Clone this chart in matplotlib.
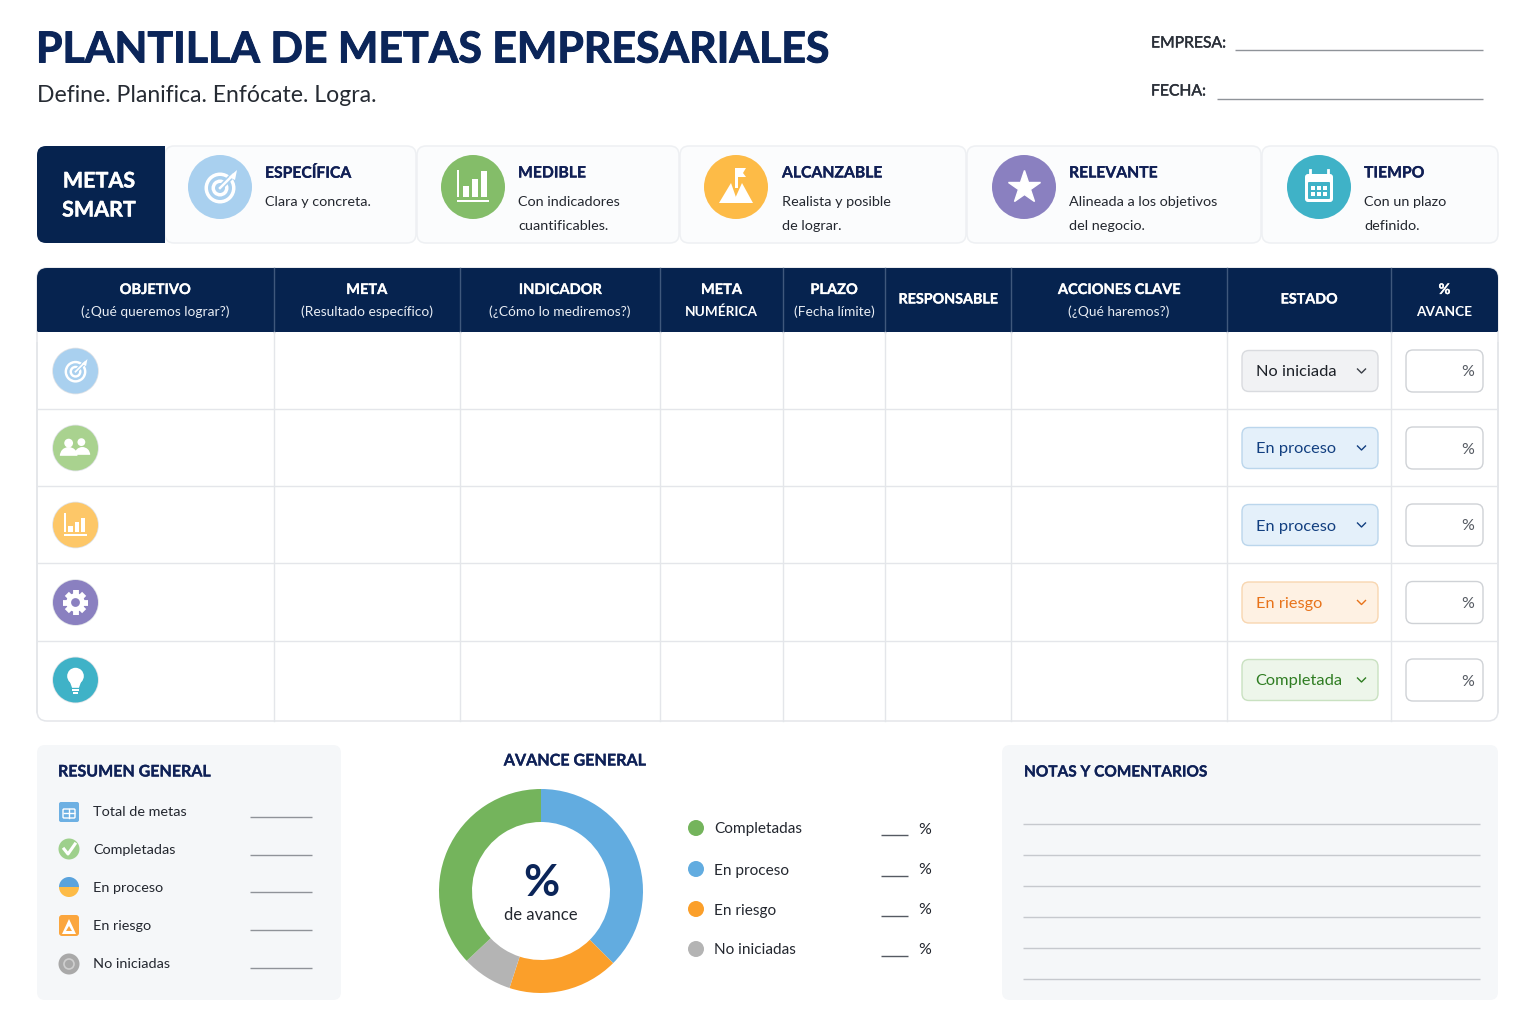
import numpy as np
from matplotlib import pyplot as plt
from matplotlib import patheffects
from matplotlib.patches import Circle, FancyBboxPatch, Polygon, Rectangle, Wedge

plt.rcParams['font.family'] = ['Lato', 'DejaVu Sans']

# --- contenido ---
TITLE = "PLANTILLA DE METAS EMPRESARIALES"
SUBTITLE = "Define. Planifica. Enfócate. Logra."

smart_titles = ["ESPECÍFICA", "MEDIBLE", "ALCANZABLE", "RELEVANTE", "TIEMPO"]
smart_texts = [["Clara y concreta."],
               ["Con indicadores", "cuantificables."],
               ["Realista y posible", "de lograr."],
               ["Alineada a los objetivos", "del negocio."],
               ["Con un plazo", "definido."]]

col_titles = ["OBJETIVO", "META", "INDICADOR", "META", "PLAZO", "RESPONSABLE",
              "ACCIONES CLAVE", "ESTADO", "%"]
col_subs = ["(¿Qué queremos lograr?)", "(Resultado específico)", "(¿Cómo lo mediremos?)",
            "NUMÉRICA", "(Fecha límite)", "", "(¿Qué haremos?)", "", "AVANCE"]
row_status = ["No iniciada", "En proceso", "En proceso", "En riesgo", "Completada"]

summary_labels = ["Total de metas", "Completadas", "En proceso", "En riesgo", "No iniciadas"]

donut_labels = ["En proceso", "En riesgo", "No iniciadas", "Completadas"]
donut_values = [37.5, 17.5, 8, 37]
legend_labels = ["Completadas", "En proceso", "En riesgo", "No iniciadas"]

# --- colores ---
NAVY = '#06234f'
TITLE_BLUE = '#0b2559'
TEXT = '#2a2f38'
GRID = '#e4e6ea'
BLUE, GREEN, ORANGE, GREY = '#62ace0', '#74b45c', '#fb9f2a', '#b4b4b4'
donut_colors = {"En proceso": BLUE, "En riesgo": ORANGE, "No iniciadas": GREY, "Completadas": GREEN}
status_style = {"No iniciada": ('#f1f2f4', '#d9dbdf', '#1c2027'),
                "En proceso": ('#e4f0fa', '#bbd6ec', '#123f80'),
                "En riesgo": ('#fef1e3', '#f8d6b0', '#e8731a'),
                "Completada": ('#edf6ea', '#c9e1c1', '#2f7d22')}

# --- lienzo en pixeles ---
fig = plt.figure(figsize=(15.36, 10.24), dpi=100, facecolor='white')
ax = fig.add_axes([0, 0, 1, 1])
ax.set_xlim(0, 1536)
ax.set_ylim(1024, 0)
ax.axis('off')


def px(size):
    return size * 0.72


def box(x0, y0, x1, y1, r=8, fc='white', ec='none', lw=1, z=1):
    p = FancyBboxPatch((x0, y0), x1 - x0, y1 - y0, boxstyle=f"round,pad=0,rounding_size={r}",
                       fc=fc, ec=ec, lw=lw, zorder=z)
    ax.add_patch(p)
    return p


def txt(x, y, s, size, color=TEXT, weight='normal', ha='left', z=6, heavy=0):
    t = ax.text(x, y + 1.5, s, fontsize=px(size), color=color, fontweight=weight, ha=ha, va='center', zorder=z)
    if heavy:
        t.set_path_effects([patheffects.withStroke(linewidth=heavy, foreground=color)])
    return t


def hline(x0, x1, y, color='#8f9399', lw=1.0, z=3):
    ax.plot([x0, x1], [y, y], color=color, lw=lw, zorder=z, solid_capstyle='butt')


def disc(cx, cy, r, color, z=4):
    ax.add_patch(Circle((cx, cy), r, fc=color, ec='none', zorder=z))


# iconos
def icon_target(cx, cy, r, bg):
    disc(cx, cy, r, bg)
    s = r / 32
    for rad, col in [(15.5, 'white'), (12, bg), (8.5, 'white'), (5, bg)]:
        disc(cx, cy + 1 * s, rad * s, col, z=5)
    ax.plot([cx, cx + 13 * s], [cy + 1 * s, cy - 12 * s], color=bg, lw=4.0 * s, zorder=5)
    ax.plot([cx, cx + 13 * s], [cy + 1 * s, cy - 12 * s], color='white', lw=1.8 * s, zorder=5)
    ax.add_patch(Polygon([(cx + 9 * s, cy - 10 * s), (cx + 17 * s, cy - 17 * s), (cx + 15 * s, cy - 7 * s)],
                         fc='white', ec='none', zorder=5))


def icon_bars(cx, cy, r, bg, heights=(11, 18, 26)):
    disc(cx, cy, r, bg)
    s = r / 32
    left = cx - 12 * s
    for i, h in enumerate(heights):
        ax.add_patch(Rectangle((left + i * 9 * s + 2 * s, cy + 10 * s - h * s), 6 * s, h * s, fc='white', ec='none', zorder=5))
    ax.add_patch(Rectangle((left - 4 * s, cy - 17 * s), 2 * s, 27 * s, fc='white', ec='none', zorder=5))
    ax.add_patch(Rectangle((left - 4 * s, cy + 13 * s), 32 * s, 2 * s, fc='white', ec='none', zorder=5))


def icon_mountain(cx, cy, r, bg):
    disc(cx, cy, r, bg)
    s = r / 32
    ax.add_patch(Polygon([(cx - 17 * s, cy + 16 * s), (cx - 5 * s, cy - 4 * s), (cx + 2 * s, cy + 16 * s)], fc='white', ec='none', zorder=5))
    ax.add_patch(Polygon([(cx - 3 * s, cy + 16 * s), (cx + 6 * s, cy - 4 * s), (cx + 17 * s, cy + 16 * s)], fc='white', ec='none', zorder=5))
    ax.add_patch(Rectangle((cx - 1.5 * s, cy - 19 * s), 3 * s, 20 * s, fc='white', ec='none', zorder=5))
    ax.add_patch(Polygon([(cx, cy - 19 * s), (cx + 10 * s, cy - 19 * s), (cx + 7 * s, cy - 14 * s), (cx + 10 * s, cy - 10 * s), (cx, cy - 10 * s)], fc='white', ec='none', zorder=5))


def icon_star(cx, cy, r, bg):
    disc(cx, cy, r, bg)
    ax.plot([cx], [cy], marker='*', ms=r * 0.78, color='white', mec='white', zorder=5)


def icon_calendar(cx, cy, r, bg):
    disc(cx, cy, r, bg)
    s = r / 32
    box(cx - 14 * s, cy - 13 * s, cx + 14 * s, cy + 15 * s, r=3 * s, fc='white', z=5)
    box(cx - 11 * s, cy - 5 * s, cx + 11 * s, cy + 12 * s, r=1 * s, fc=bg, z=5)
    for dx in (-9, 9):
        ax.plot([cx + dx * s] * 2, [cy - 17 * s, cy - 10 * s], color='white', lw=2, zorder=6)
    for row in range(2):
        for col in range(3):
            ax.add_patch(Rectangle((cx + (-8 + col * 6) * s, cy + (-1 + row * 6) * s), 4 * s, 4 * s, fc='white', ec='none', zorder=6))


def icon_people(cx, cy, r, bg):
    disc(cx, cy, r, bg)
    s = r / 23
    disc(cx - 7 * s, cy - 5 * s, 4.5 * s, 'white', z=5)
    disc(cx + 6 * s, cy - 6 * s, 4 * s, 'white', z=5)
    ax.add_patch(Wedge((cx - 7 * s, cy + 8 * s), 9 * s, 180, 360, fc='white', ec='none', zorder=5))
    ax.add_patch(Wedge((cx + 7 * s, cy + 7 * s), 8 * s, 180, 360, fc='white', ec='none', zorder=5))


def icon_gear(cx, cy, r, bg):
    disc(cx, cy, r, bg)
    s = r / 23
    for a in np.arange(0, 360, 45):
        t = np.radians(a)
        ax.plot([cx, cx + 12.5 * s * np.cos(t)], [cy, cy + 12.5 * s * np.sin(t)], color='white', lw=4.2, zorder=5, solid_capstyle='butt')
    disc(cx, cy, 9.5 * s, 'white', z=5)
    disc(cx, cy, 4.5 * s, bg, z=6)


def icon_bulb(cx, cy, r, bg):
    disc(cx, cy, r, bg)
    s = r / 23
    disc(cx, cy - 4 * s, 8.5 * s, 'white', z=5)
    ax.add_patch(Polygon([(cx - 6 * s, cy + 1 * s), (cx + 6 * s, cy + 1 * s), (cx + 3.5 * s, cy + 8 * s), (cx - 3.5 * s, cy + 8 * s)], fc='white', ec='none', zorder=5))
    ax.add_patch(Rectangle((cx - 3.5 * s, cy + 9.5 * s), 7 * s, 1.8 * s, fc='white', ec='none', zorder=5))
    ax.add_patch(Rectangle((cx - 2.5 * s, cy + 12.5 * s), 5 * s, 1.8 * s, fc='white', ec='none', zorder=5))


# --- encabezado ---
txt(36, 48, TITLE, 42.8, TITLE_BLUE, 'bold', heavy=0.7)
txt(37, 93.5, SUBTITLE, 23, '#262b33')
txt(1151, 42, "EMPRESA:", 15.7, '#2a2f38', heavy=0.3)
hline(1235, 1483, 50)
txt(1151, 90, "FECHA:", 15.7, '#2a2f38', heavy=0.3)
hline(1217, 1483, 99)

# --- tarjetas SMART ---
card_edges = [(165, 416), (417, 679), (680, 966), (967, 1261), (1262, 1498)]
card_icons = [(icon_target, 220, '#a9d0ef'), (icon_bars, 473, '#84bd69'), (icon_mountain, 736, '#fdbb47'),
              (icon_star, 1024, '#8a80c0'), (icon_calendar, 1319, '#3fb2c7')]
card_text_x = [265, 518, 782, 1069, 1364]
for i in range(len(smart_titles)):
    x0, x1 = card_edges[i]
    box(x0, 146, x1, 243, r=9, fc='#fbfcfd', ec='#eef0f3', lw=1.1)
    fn, icx, bg = card_icons[i]
    fn(icx, 187, 32, bg)
    txt(card_text_x[i], 172, smart_titles[i], 15.7, '#101f55', 'bold', heavy=0.2)
    for j, line in enumerate(smart_texts[i]):
        txt(card_text_x[i], 200.5 + j * 23.5, line, 14.4, '#23272f')

box(37, 146, 165, 243, r=9, fc=NAVY, z=2)
ax.add_patch(Rectangle((155, 146), 10, 97, fc=NAVY, ec='none', zorder=2))
txt(99, 180, "METAS", 21.5, 'white', 'bold', ha='center', heavy=0.3)
txt(99, 209, "SMART", 21.5, 'white', 'bold', ha='center', heavy=0.3)

# --- tabla ---
col_edges = [37, 273.5, 460, 660, 783, 885, 1011, 1227, 1391, 1498]
row_edges = [332, 409, 486, 563, 641, 721]

box(37, 268, 1498, 721, r=10, fc='white', ec=GRID, lw=1.1)
box(37, 268, 1498, 340, r=10, fc=NAVY, z=2)
ax.add_patch(Rectangle((37, 320), 1461, 12, fc=NAVY, ec='none', zorder=2))
ax.add_patch(Rectangle((36, 332), 1463, 10, fc='white', ec='none', zorder=2))
ax.plot([37, 37], [332, 712], color=GRID, lw=1.1, zorder=3)
ax.plot([1498, 1498], [332, 712], color=GRID, lw=1.1, zorder=3)

for x in col_edges[1:-1]:
    ax.plot([x, x], [268, 332], color='#3f587c', lw=1, zorder=3)
    ax.plot([x, x], [332, 721], color=GRID, lw=1, zorder=3)
for y in row_edges[1:-1]:
    hline(37, 1498, y, color=GRID, lw=1)

for i in range(len(col_titles)):
    xc = (col_edges[i] + col_edges[i + 1]) / 2
    if col_subs[i]:
        txt(xc, 288.5, col_titles[i], 14.6, 'white', 'bold', ha='center', heavy=0.2)
        bold_sub = col_subs[i].isupper()
        txt(xc, 310.5, col_subs[i], 13.7 if not bold_sub else 13.6, '#e8edf4' if not bold_sub else 'white',
            'bold' if bold_sub else 'normal', ha='center')
    else:
        txt(xc, 298, col_titles[i], 14.3, 'white', 'bold', ha='center', heavy=0.2)

row_y = [371, 448, 525, 602.5, 680]
row_icons = [(icon_target, '#a9d0ef'), (icon_people, '#a9d28f'), (icon_bars, '#fdc768'),
             (icon_gear, '#8a80c0'), (icon_bulb, '#3fb2c7')]
for i, y in enumerate(row_y):
    fn, bg = row_icons[i]
    disc(75.5, y, 23.3, '#e0e3e7', z=3)
    if fn is icon_bars:
        fn(75.5, y, 22.5, bg, heights=(9, 14, 20))
    else:
        fn(75.5, y, 22.5, bg)

    fc, ec, tc = status_style[row_status[i]]
    box(1242, y - 20.5, 1378, y + 20.5, r=7, fc=fc, ec=ec, lw=1.0, z=4)
    txt(1255.5, y, row_status[i], 16.4, tc)
    chev = tc if row_status[i] != "No iniciada" else '#3a3f47'
    ax.plot([1357.5, 1361.5, 1365.5], [y - 2, y + 2, y - 2], color=chev, lw=1.0, zorder=6)

    box(1406, y - 21, 1483, y + 21, r=7, fc='white', ec='#cfd2d6', lw=1.0, z=4)
    txt(1474, y, "%", 16, '#555a62', ha='right')

# --- resumen ---
box(37, 745, 341, 1000, r=8, fc='#f5f7f9')
txt(58, 771, "RESUMEN GENERAL", 16, '#0f2157', 'bold', heavy=0.2)
sum_y = [812, 849, 887, 925, 964]
sum_line = [817, 855, 892, 930, 968]
for y, yl, label in zip(sum_y, sum_line, summary_labels):
    txt(93, y - 1, label, 14.4, '#23272f')
    hline(250, 312, yl, color='#8f9399')

# iconos del resumen
box(59, 802, 79, 822, r=2, fc='#6db0e3', z=4)
box(63, 809, 75, 818, r=1, fc='none', ec='white', lw=1, z=5)
ax.plot([69, 69], [809, 818], color='white', lw=1, zorder=5)
hline(63, 75, 813, color='white', z=5)
disc(69, 849, 10.5, '#9ed08c')
ax.plot([64, 68, 75], [849, 854, 844], color='white', lw=2.2, zorder=5)
ax.add_patch(Wedge((69, 887), 10, 180, 360, fc='#5aa3dd', ec='none', zorder=4))
ax.add_patch(Wedge((69, 887), 10, 0, 180, fc='#fdbb47', ec='none', zorder=4))
box(59, 915, 79, 936, r=3, fc='#fba63e', z=4)
ax.add_patch(Polygon([(62, 934), (69, 919), (76, 934)], fc='white', ec='none', zorder=5))
ax.add_patch(Polygon([(66, 931), (69, 926), (72, 931)], fc='#fba63e', ec='none', zorder=5))
disc(69, 964, 10.5, '#a9a9a9')
ax.add_patch(Circle((69, 964), 5, fc='none', ec='#cfcfcf', lw=1.2, zorder=5))

# --- avance general ---
txt(575, 760, "AVANCE GENERAL", 16.1, '#0f2157', 'bold', ha='center', heavy=0.2)
pie_ax = fig.add_axes([439 / 1536, 1 - 993 / 1024, 204 / 1536, 204 / 1024])
pie_ax.pie(donut_values, colors=[donut_colors[k] for k in donut_labels], startangle=90, counterclock=False,
           radius=1, wedgeprops={'width': 33 / 102, 'linewidth': 0})
pie_ax.set_xlim(-1, 1)
pie_ax.set_ylim(-1, 1)
pie_ax.set_aspect('equal')
pie_ax.patch.set_alpha(0)
txt(541, 881, "%", 44, TITLE_BLUE, 'bold', ha='center')
txt(541, 913, "de avance", 16.6, '#23272f', ha='center')

leg_y = [828, 869, 909, 949]
for y, label in zip(leg_y, legend_labels):
    disc(696, y, 8, donut_colors[label])
    txt(714, y, label, 15.4, '#23272f')
    hline(881, 908, y + 7, color='#555a62')
    txt(925, y, "%", 16, '#23272f', ha='center')

# --- notas ---
box(1002, 745, 1498, 1000, r=8, fc='#f5f7f9')
txt(1024, 771, "NOTAS Y COMENTARIOS", 15.4, '#0f2157', 'bold', heavy=0.2)
for y in [824, 855, 886, 917, 948, 979]:
    hline(1023, 1480, y, color='#c6c9ce')

fig.savefig('out.png', dpi=100, facecolor='white')
